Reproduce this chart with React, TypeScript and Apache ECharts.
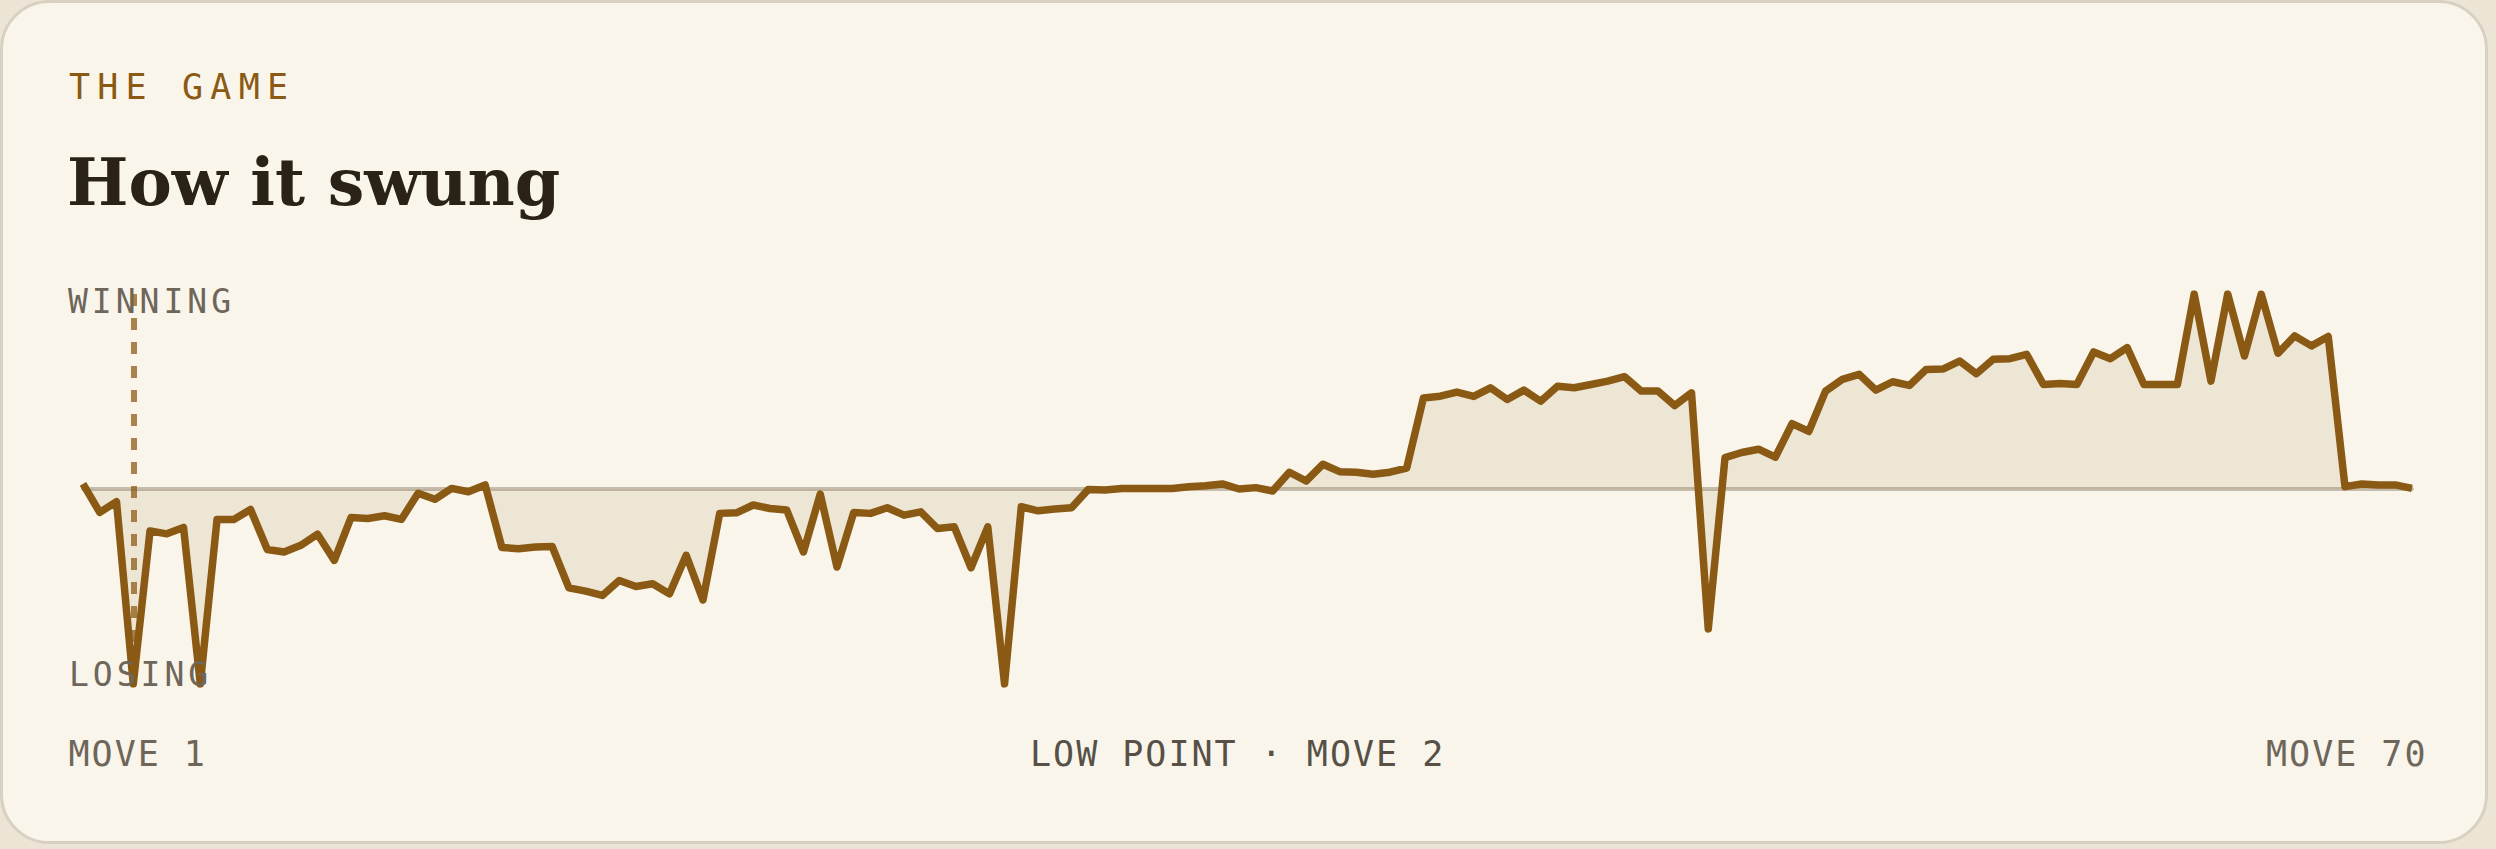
import * as echarts from 'echarts';
import { useEffect, useRef } from 'react';

// evaluation after each ply, in pawns, clamped to +-10 (140 plies = 70 moves)
const evals: number[] = [
  0.26, -1.2, -0.65, -10, -2.15, -2.3, -1.97, -10, -1.56, -1.56,
  -1.05, -3.1, -3.23, -2.89, -2.32, -3.66, -1.46, -1.51, -1.37, -1.56,
  -0.22, -0.53, 0.03, -0.14, 0.21, -3.0, -3.06, -2.97, -2.95, -5.07,
  -5.24, -5.46, -4.69, -5.0, -4.86, -5.38, -3.4, -5.69, -1.25, -1.22,
  -0.82, -1.0, -1.08, -3.23, -0.26, -4.0, -1.2, -1.25, -0.96, -1.34,
  -1.17, -2.03, -1.94, -4.04, -1.94, -10, -0.91, -1.12, -1.03, -0.96,
  -0.02, -0.05, 0.02, 0.03, 0.03, 0.03, 0.12, 0.17, 0.26, 0,
  0.07, -0.1, 0.86, 0.41, 1.27, 0.89, 0.86, 0.76, 0.86, 1.07,
  4.67, 4.76, 4.97, 4.75, 5.19, 4.59, 5.07, 4.5, 5.27, 5.19,
  5.36, 5.53, 5.76, 5.02, 5.02, 4.28, 4.93, -7.18, 1.61, 1.87,
  2.04, 1.63, 3.35, 2.95, 5.02, 5.62, 5.88, 5.07, 5.5, 5.31,
  6.13, 6.15, 6.56, 5.91, 6.65, 6.68, 6.91, 5.36, 5.41, 5.36,
  7.03, 6.68, 7.25, 5.36, 5.36, 5.36, 10, 5.53, 10, 6.82,
  10, 6.96, 7.85, 7.34, 7.82, 0.12, 0.26, 0.21, 0.21, 0.03,
];

const plies: string[] = evals.map((_, i) => String(i + 1));
const lowPointPly = '4';
const evalRange = [-10, 10];

const kicker = 'THE GAME';
const title = 'How it swung';
const topLabel = 'WINNING';
const bottomLabel = 'LOSING';
const startLabel = 'MOVE 1';
const lowLabel = 'LOW POINT · MOVE 2';
const endLabel = 'MOVE 70';

const MONO = '"DejaVu Sans Mono", monospace';
const INK = '#8a5a14';
const MUTED = '#6e665a';

// svg texts have no letter spacing option in echarts, so it is set on the drawn nodes
const tracking: Record<string, number> = {
  [kicker]: 7.2,
  [topLabel]: 4,
  [bottomLabel]: 4,
  [startLabel]: 2,
  [lowLabel]: 2,
  [endLabel]: 2,
};

export default function App() {
  const chartRef = useRef<HTMLDivElement>(null);

  useEffect(() => {
    document.body.style.margin = '0';
    document.body.style.overflow = 'hidden';
    document.body.style.background = '#ece5d6';
    if (!chartRef.current) return;
    const chart = echarts.init(chartRef.current, null, { renderer: 'svg' });

    const label = (text: string, x: number, y: number, size: number, color: string) => ({
      type: 'text',
      x,
      y,
      z: 10,
      silent: true,
      style: {
        text,
        fill: color,
        font: `${size}px ${MONO}`,
        textAlign: 'left',
        textVerticalAlign: 'middle',
      },
    });

    const applyTracking = () => {
      chartRef.current?.querySelectorAll('text').forEach((node) => {
        const s = tracking[node.textContent ?? ''];
        if (s) node.setAttribute('letter-spacing', String(s));
      });
    };
    chart.on('finished', applyTracking);

    chart.setOption({
      animation: false,
      backgroundColor: '#ece5d6',
      grid: { left: 83, top: 294, width: 2329, height: 390 },
      xAxis: {
        type: 'category',
        data: plies,
        boundaryGap: false,
        axisLine: { show: true, onZero: true, lineStyle: { color: '#c6bcab', width: 4 } },
        axisTick: { show: false },
        axisLabel: { show: false },
        splitLine: { show: false },
      },
      yAxis: {
        type: 'value',
        min: evalRange[0],
        max: evalRange[1],
        axisLine: { show: false },
        axisTick: { show: false },
        axisLabel: { show: false },
        splitLine: { show: false },
      },
      graphic: [
        {
          type: 'rect',
          z: -10,
          silent: true,
          shape: { x: 1.5, y: 1.5, width: 2485, height: 841, r: 48 },
          style: { fill: '#f9f5ea', stroke: '#d8d1c2', lineWidth: 3 },
        },
        label(kicker, 69, 86.5, 35, INK),
        {
          type: 'text',
          x: 67,
          y: 182,
          z: 10,
          silent: true,
          style: {
            text: title,
            fill: '#2a2216',
            font: 'bold 65px "DejaVu Serif", serif',
            textAlign: 'left',
            textVerticalAlign: 'middle',
          },
        },
        label(topLabel, 68, 301.5, 33, MUTED),
        label(bottomLabel, 69, 674.5, 33, MUTED),
        label(startLabel, 68.5, 753.5, 35, MUTED),
        label(lowLabel, 1030, 753.5, 35, '#575046'),
        label(endLabel, 2266, 753.5, 35, MUTED),
      ],
      series: [
        {
          type: 'line',
          data: evals,
          showSymbol: false,
          silent: true,
          z: 3,
          lineStyle: { color: INK, width: 7.5, join: 'round', cap: 'butt' },
          areaStyle: { color: 'rgba(139, 90, 20, 0.14)' },
          markLine: {
            silent: true,
            symbol: 'none',
            label: { show: false },
            z: 2,
            lineStyle: { color: 'rgba(139, 90, 20, 0.74)', width: 6, type: [12, 12] },
            data: [
              [
                { coord: [lowPointPly, evalRange[1]] },
                { coord: [lowPointPly, evalRange[0]] },
              ],
            ],
          },
        },
      ],
    });
    applyTracking();

    return () => chart.dispose();
  }, []);

  return <div ref={chartRef} style={{ width: 2496, height: 849 }} />;
}
